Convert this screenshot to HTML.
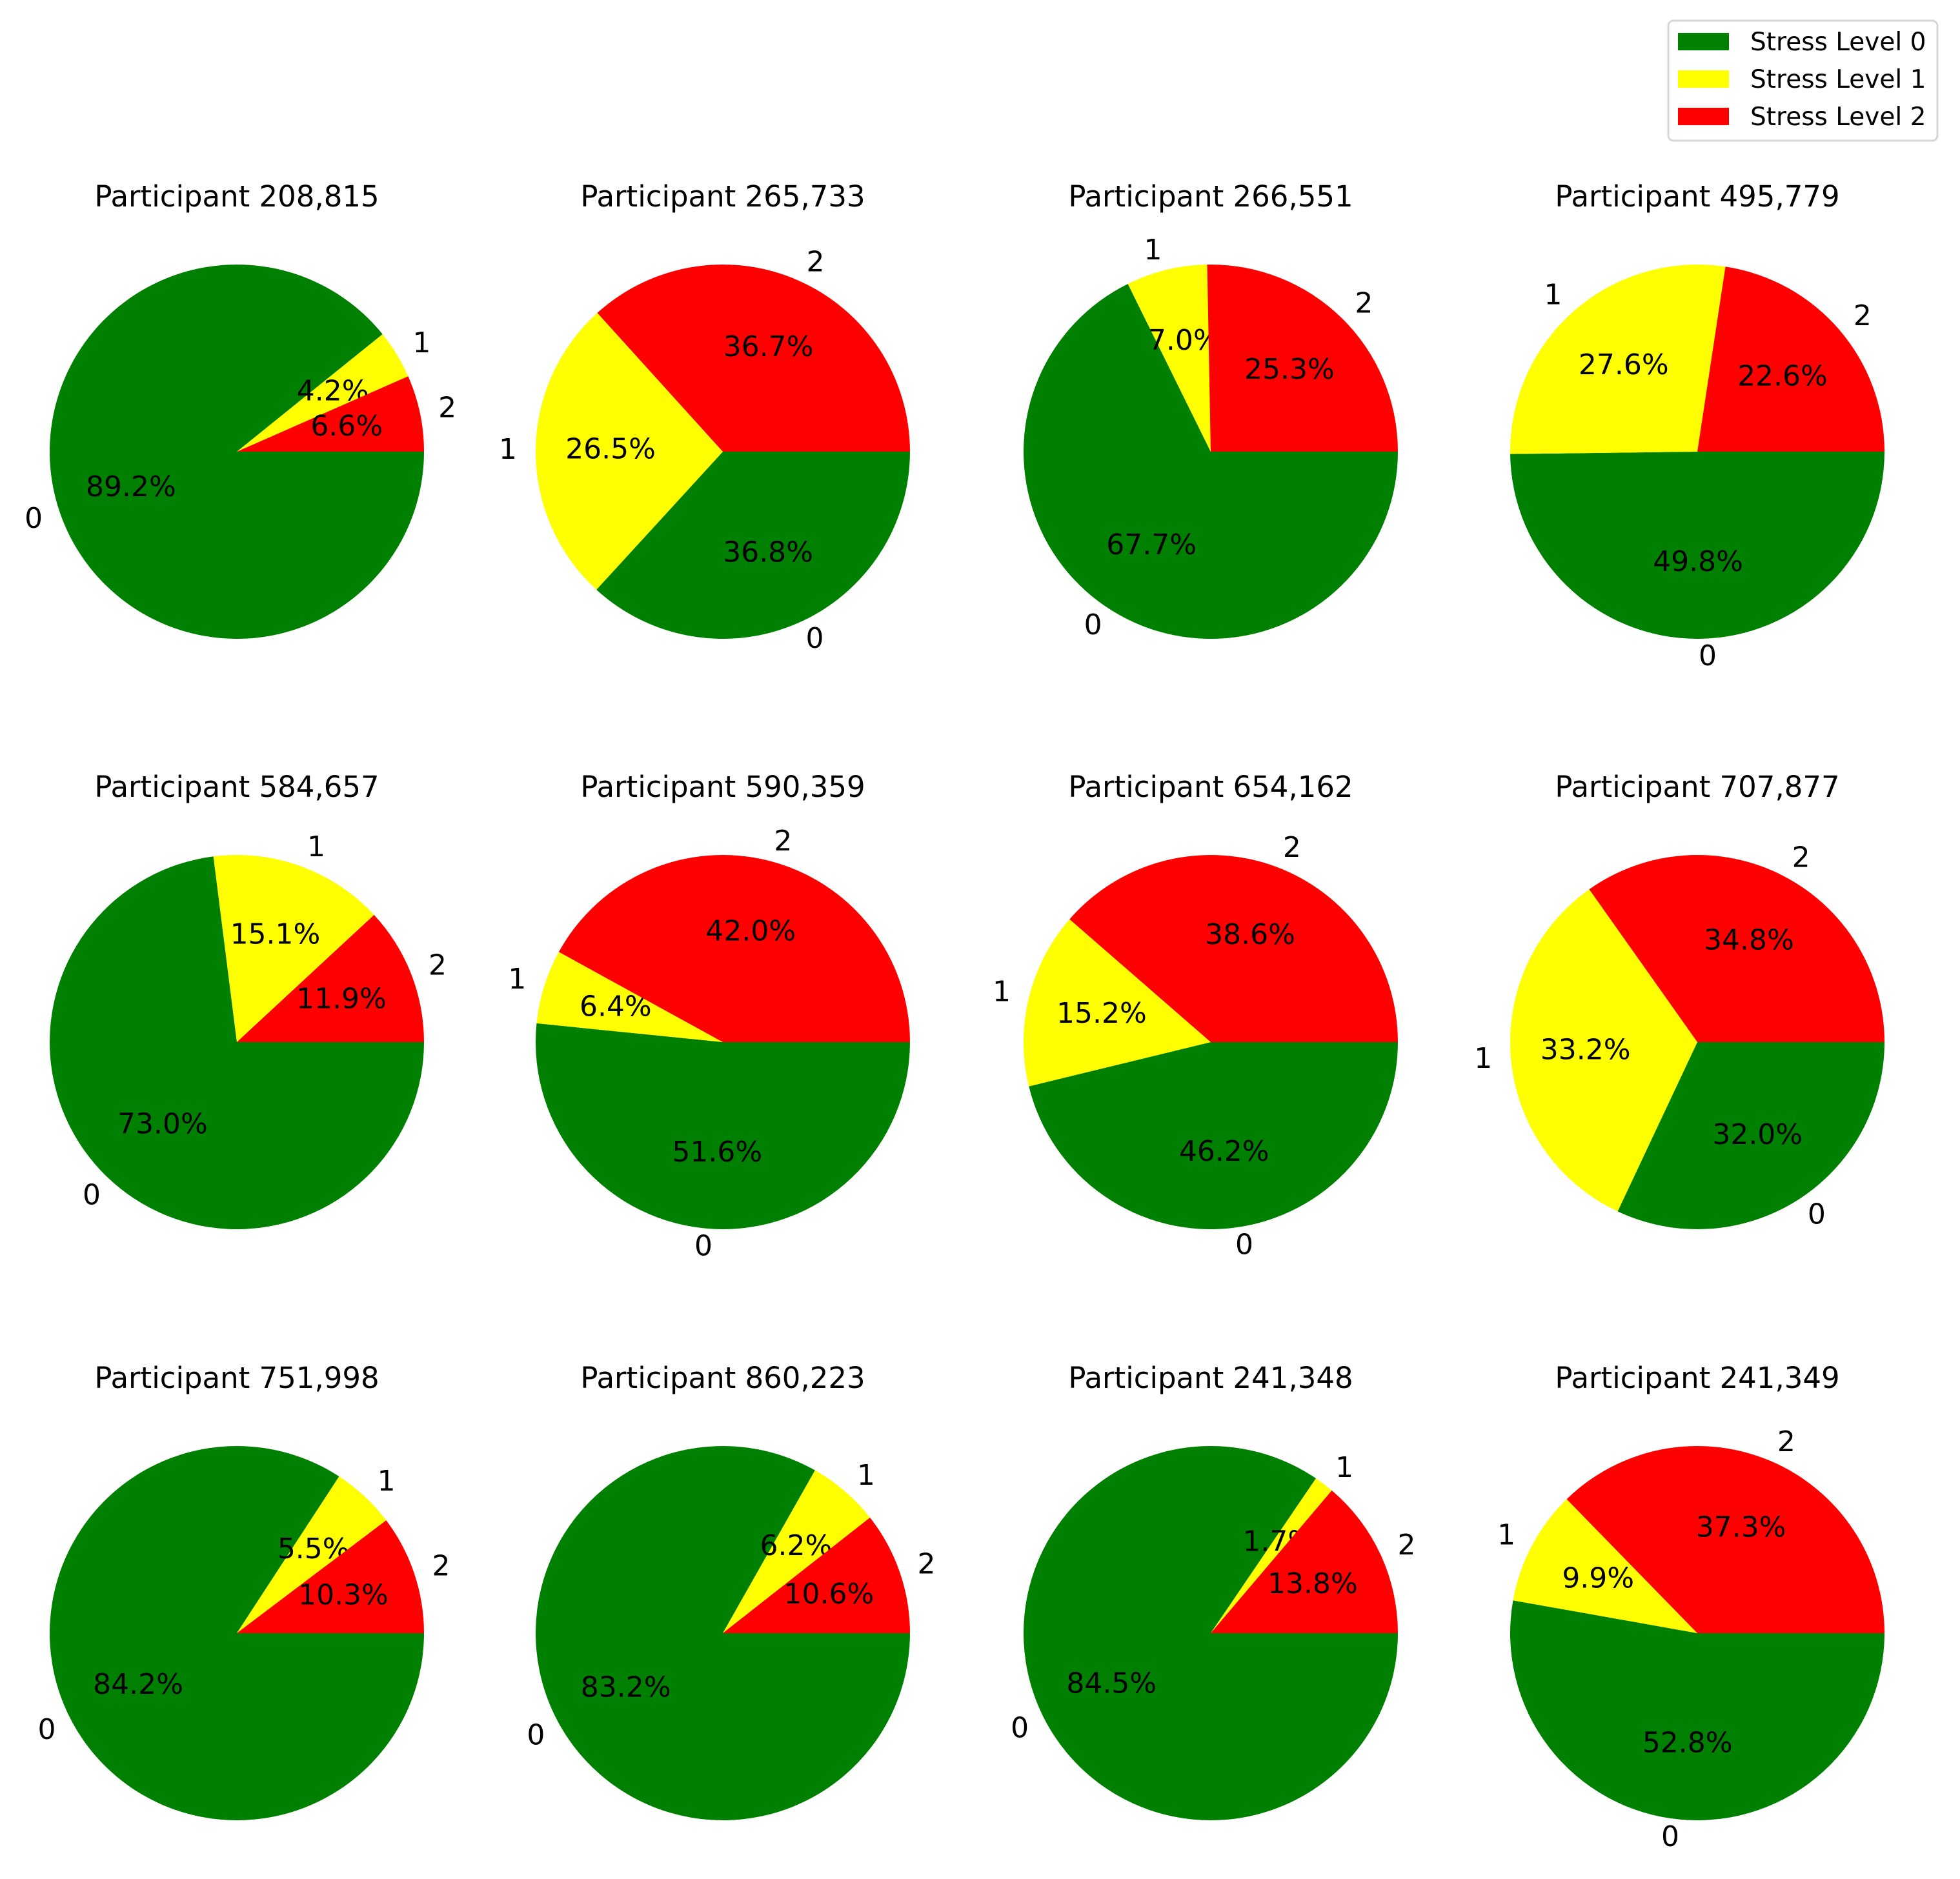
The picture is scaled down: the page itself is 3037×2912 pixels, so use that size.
<!DOCTYPE html>
<html><head><meta charset="utf-8"><style>
html,body{margin:0;padding:0;background:#fff;}
svg{display:block;font-family:"DejaVu Sans","Liberation Sans",sans-serif;}
</style></head><body>
<svg id="chart" width="3037" height="2912" viewBox="0 0 3037 2912">
<rect width="3037" height="2912" fill="#fff"/>
<g>
<rect x="2585" y="32" width="417" height="186" rx="8" fill="#fff" stroke="#d6d6d6" stroke-width="3"/>
<rect x="2600" y="51" width="79" height="27" fill="#008000"/>
<text x="2712" y="78" font-size="39">Stress Level 0</text>
<rect x="2600" y="109" width="79" height="27" fill="#ffff00"/>
<text x="2712" y="136" font-size="39">Stress Level 1</text>
<rect x="2600" y="167" width="79" height="27" fill="#ff0000"/>
<text x="2712" y="194" font-size="39">Stress Level 2</text>
</g>
</svg>
<script>
const participants = ["208,815","265,733","266,551","495,779","584,657","590,359","654,162","707,877","751,998","860,223","241,348","241,349"];
const level0 = [89.2,36.8,67.7,49.8,73.0,51.6,46.2,32.0,84.2,83.2,84.5,52.8];
const level1 = [4.2,26.5,7.0,27.6,15.1,6.4,15.2,33.2,5.5,6.2,1.7,9.9];
const level2 = [6.6,36.7,25.3,22.6,11.9,42.0,38.6,34.8,10.3,10.6,13.8,37.3];
const levelLabels = ["0","1","2"];
const colors = ["#008000","#ffff00","#ff0000"];

const svg = document.getElementById('chart');
const NS = "http://www.w3.org/2000/svg";
const colX = [367,1120,1876,2630], rowY = [700,1615,2531], R = 290;
function mk(tag, attrs){const e=document.createElementNS(NS,tag);for(const k in attrs)e.setAttribute(k,attrs[k]);return e;}
function pt(cx,cy,r,deg){const a=deg*Math.PI/180;return [cx+r*Math.cos(a), cy-r*Math.sin(a)];}

participants.forEach((p,i)=>{
  const cx=colX[i%4], cy=rowY[Math.floor(i/4)];
  const g=mk('g',{});
  
  
  svg.appendChild(g);
  const t=mk('text',{x:cx,y:cy-380,'font-size':45,'text-anchor':'middle'});
  
  
  t.textContent='Participant '+p;
  g.appendChild(t);
  const vals=[level0[i],level1[i],level2[i]];
  const total=vals.reduce((a,b)=>a+b,0);
  let ang=0;
  vals.forEach((v,k)=>{
    const sweep=v/total*360;
    const a0=ang, a1=ang-sweep;
    const [x0,y0]=pt(cx,cy,R,a0),[x1,y1]=pt(cx,cy,R,a1);
    const large=sweep>180?1:0;
    const path=mk('path',{d:`M${cx},${cy} L${x0},${y0} A${R},${R} 0 ${large} 1 ${x1},${y1} Z`,fill:colors[k]});
    
    
    g.appendChild(path);
    const mid=(a0+a1)/2;
    const [px,py]=pt(cx,cy,R*0.6,mid);
    const pct=mk('text',{x:px,y:py+11,'font-size':44,'text-anchor':'middle'});
    
    
    pct.textContent=v.toFixed(1)+'%';
    g.appendChild(pct);
    const [lx,ly]=pt(cx,cy,R*1.1,mid);
    const lab=mk('text',{x:lx,y:ly+12,'font-size':44,'text-anchor':Math.cos(mid*Math.PI/180)<0?'end':'start'});
    
    
    lab.textContent=levelLabels[k];
    g.appendChild(lab);
    ang=a1;
  });
});
</script>
</body></html>
